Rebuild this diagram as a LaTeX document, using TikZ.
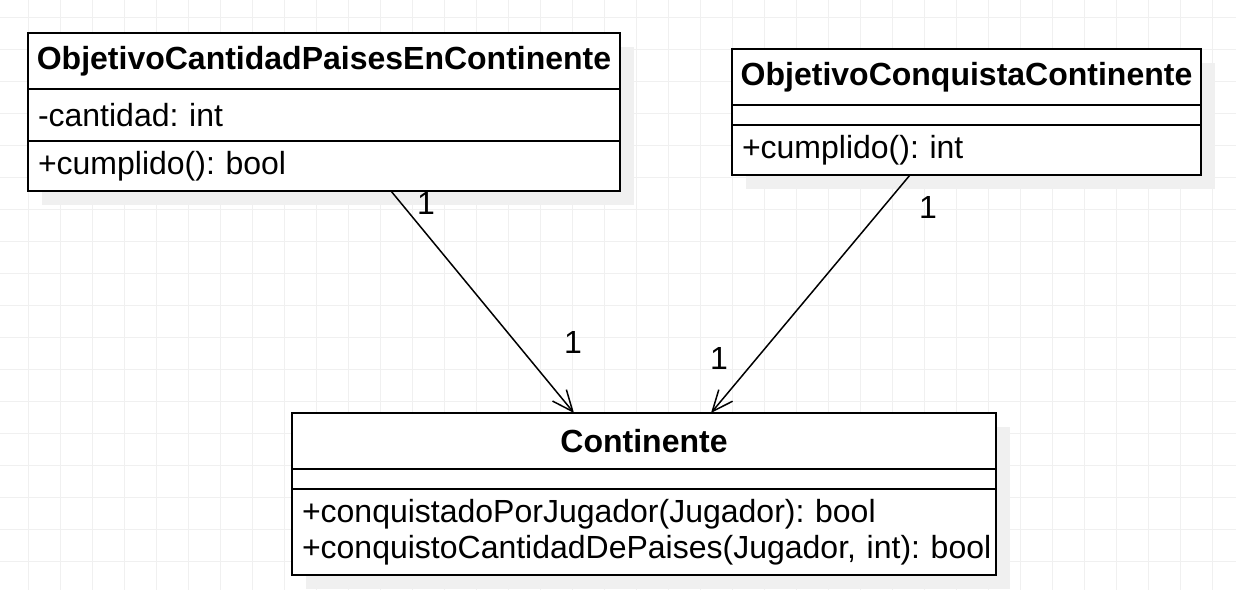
\documentclass[tikz,border=0pt]{standalone}
\usepackage{fontspec}
\setmainfont{Liberation Sans}
\usepackage{tikz}
\usetikzlibrary{positioning,arrows.meta,shadows}
\frenchspacing

\begin{document}
\begin{tikzpicture}[%
    x=0.5pt,
    y=-0.5pt,
    font=\fontsize{16pt}{18pt}\selectfont,
    gridline/.style={draw=black!6, line width=0.5pt},
    classbox/.style={%
      rectangle,
      draw,
      line width=1pt,
      fill=white,
      anchor=north west,
      inner sep=0pt,
      outer sep=0pt,
      minimum width=#1,
      drop shadow={shadow xshift=7pt, shadow yshift=-7pt, fill=black!6, opacity=1}
    },
    classhead/.style={classbox=#1, minimum height=28pt, font=\fontsize{16pt}{18pt}\selectfont\bfseries},
    classbody/.style={classbox=#1, inner xsep=5pt, align=left},
    assoc/.style={-{Straight Barb[length=10.5pt,width=9pt]}, line width=0.75pt},
    mult/.style={inner sep=0pt}
  ]
    \useasboundingbox (0,0) rectangle (1236,590);
    \fill[white] (0,0) rectangle (1236,590);
    \foreach \x in {28,60,...,1236} \draw[gridline] (\x,0) -- (\x,590);
    \foreach \y in {17,49,...,590}  \draw[gridline] (0,\y) -- (1236,\y);

    \node[classhead=296pt] (ocphead) at (28,33) {ObjetivoCantidadPaisesEnContinente};
    \node[classbody=296pt, text width=286pt, minimum height=26pt, below=0pt of ocphead] (ocpatr) {-cantidad: int};
    \node[classbody=296pt, text width=286pt, minimum height=25pt, below=0pt of ocpatr]  (ocpmet) {+cumplido(): bool};

    \node[classhead=234.5pt] (occhead) at (732,49) {ObjetivoConquistaContinente};
    \node[classbody=234.5pt, text width=224.5pt, minimum height=10pt, below=0pt of occhead] (occatr) {};
    \node[classbody=234.5pt, text width=224.5pt, minimum height=25pt, below=0pt of occatr]  (occmet) {+cumplido(): int};

    \node[classhead=352pt] (conthead) at (292,413) {Continente};
    \node[classbody=352pt, text width=342pt, minimum height=10pt, below=0pt of conthead] (contatr) {};
    \node[classbody=352pt, text width=342pt, minimum height=43pt, below=0pt of contatr]  (contmet) {\mbox{+conquistadoPorJugador(Jugador): bool}\\\mbox{+conquistoCantidadDePaises(Jugador, int): bool}};

    \draw[assoc] ([xshift=181.5pt]ocpmet.south west) -- ([xshift=141pt]conthead.north west);
    \draw[assoc] ([xshift=89pt]occmet.south west)    -- ([xshift=209.5pt]conthead.north west);

    \node[mult] (ocpsrc) at (426,203) {1};
    \node[mult] (ocpdst) at (573,342) {1};
    \node[mult] (occsrc) at (928,207) {1};
    \node[mult] (occdst) at (719,358) {1};
  \end{tikzpicture}
\end{document}
